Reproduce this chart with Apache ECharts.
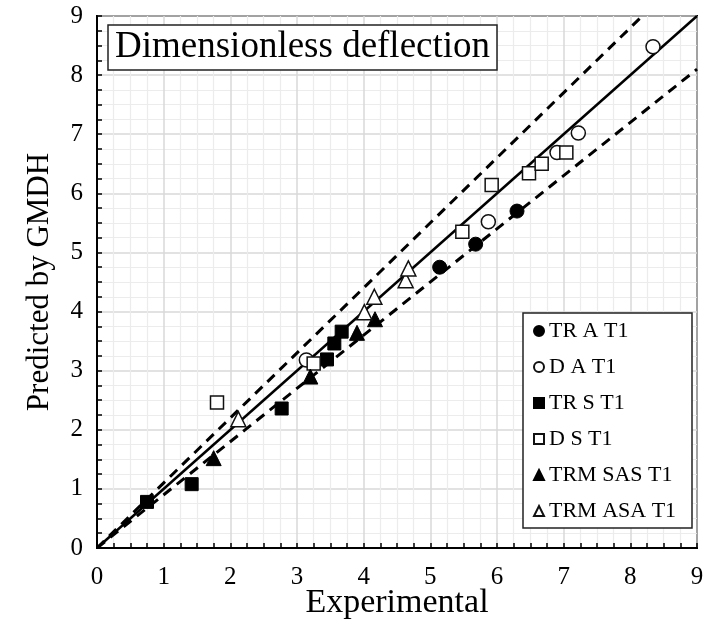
<!DOCTYPE html>
<html>
<head>
<meta charset="utf-8">
<script src="https://cdn.jsdelivr.net/npm/echarts@6/dist/echarts.min.js"></script>
<style>
html,body{margin:0;padding:0;background:#fff;}
#chart{width:707px;height:619px;}
</style>
</head>
<body>
<div id="chart"></div>
<script>
// ---- data ----
var seriesNames = ['TR A T1', 'D A T1', 'TR S T1', 'D S T1', 'TRM SAS T1', 'TRM ASA T1'];

var trA_x = [5.14, 5.68, 6.30];
var trA_y = [4.75, 5.14, 5.70];

var dA_x = [3.14, 5.87, 6.90, 7.22, 8.34];
var dA_y = [3.18, 5.52, 6.69, 7.02, 8.48];

var trS_x = [0.75, 1.42, 2.77, 3.45, 3.56, 3.67];
var trS_y = [0.78, 1.08, 2.36, 3.19, 3.46, 3.66];

var dS_x = [1.80, 3.25, 5.48, 5.92, 6.48, 6.67, 7.04];
var dS_y = [2.46, 3.12, 5.35, 6.14, 6.34, 6.50, 6.69];

var trmSAS_x = [1.75, 3.20, 3.90, 4.17];
var trmSAS_y = [1.52, 2.90, 3.64, 3.87];

var trmASA_x = [2.12, 4.01, 4.16, 4.63, 4.67];
var trmASA_y = [2.18, 3.99, 4.25, 4.53, 4.73];

// reference lines (end points)
var lineEqual = [[0, 0], [9, 9]];
var lineUpper = [[0, 0], [8.18, 9]];
var lineLower = [[0, 0], [9, 8.1]];

var axisTicks = [0, 1, 2, 3, 4, 5, 6, 7, 8, 9];

function zip(xs, ys) { return xs.map(function (x, i) { return [x, ys[i]]; }); }

var FONT = '"Liberation Serif", "Times New Roman", serif';

function scatter(name, xs, ys, symbol, filled, size) {
  return {
    name: name,
    type: 'scatter',
    data: zip(xs, ys),
    symbol: symbol,
    symbolSize: size,
    z: 5,
    itemStyle: filled
      ? { color: '#000', borderColor: '#000', borderWidth: 1, opacity: 1 }
      : { color: '#fff', borderColor: '#111', borderWidth: 1.5, opacity: 1 }
  };
}

function refLine(data, dashed) {
  return {
    type: 'line',
    data: data,
    symbol: 'none',
    silent: true,
    z: 3,
    lineStyle: { color: '#000', width: dashed ? 3 : 2.5, type: dashed ? [10, 7] : 'solid' }
  };
}

var axisCommon = {
  type: 'value',
  min: 0,
  max: 9,
  interval: 1,
  nameLocation: 'middle',
  nameMoveOverlap: false,
  nameTextStyle: { fontFamily: FONT, fontSize: 34, color: '#000' },
  axisLine: { show: true, onZero: false, lineStyle: { color: '#000', width: 2 } },
  axisTick: { show: true, inside: true, length: 5, lineStyle: { color: '#000', width: 1.5 } },
  minorTick: { show: true, splitNumber: 4, length: 5, lineStyle: { color: '#000', width: 1.5 } },
  splitLine: { show: true, lineStyle: { color: '#d9d9d9', width: 1.5 } },
  minorSplitLine: { show: true, lineStyle: { color: '#ececec', width: 1.2 } },
  axisLabel: { fontFamily: FONT, fontSize: 25, color: '#000',
    formatter: function (v) { return axisTicks.indexOf(v) >= 0 ? String(v) : ''; } }
};

var chart = echarts.init(document.getElementById('chart'), null, { renderer: 'canvas' });
chart.setOption({
  backgroundColor: '#fff',
  animation: false,
  title: {
    text: 'Dimensionless deflection',
    left: 108,
    top: 25,
    padding: [4, 7, 4, 7],
    backgroundColor: '#fff',
    borderColor: '#222',
    borderWidth: 1.5,
    z: 8,
    textStyle: { fontFamily: FONT, fontSize: 37, fontWeight: 'normal', color: '#000', lineHeight: 37 }
  },
  grid: {
    left: 97, right: 10, top: 16, bottom: 71,
    outerBoundsMode: 'none',
    containLabel: false,
    show: true, borderColor: '#000', borderWidth: 2, backgroundColor: 'transparent'
  },
  xAxis: Object.assign({}, axisCommon, {
    name: 'Experimental',
    nameGap: 38,
    axisLabel: Object.assign({}, axisCommon.axisLabel, { margin: 17 })
  }),
  yAxis: Object.assign({}, axisCommon, {
    name: 'Predicted by GMDH',
    nameGap: 42,
    nameTextStyle: { fontFamily: FONT, fontSize: 31, color: '#000' },
    axisLabel: Object.assign({}, axisCommon.axisLabel, { margin: 14 })
  }),
  graphic: [{
    type: 'rect',
    z: 7,
    shape: { x: 523, y: 313, width: 169, height: 215 },
    style: { fill: '#fff', stroke: '#222', lineWidth: 1.5 }
  }],
  legend: {
    orient: 'vertical',
    left: 533,
    top: 320,
    padding: 0,
    itemGap: 14,
    itemWidth: 10,
    itemHeight: 10,
    z: 9,
    data: seriesNames,
    textStyle: { fontFamily: FONT, fontSize: 22, color: '#000', lineHeight: 22 }
  },
  series: [
    refLine(lineEqual, false),
    refLine(lineUpper, true),
    refLine(lineLower, true),
    scatter(seriesNames[0], trA_x, trA_y, 'circle', true, 14),
    scatter(seriesNames[1], dA_x, dA_y, 'circle', false, 14),
    scatter(seriesNames[2], trS_x, trS_y, 'rect', true, 13),
    scatter(seriesNames[3], dS_x, dS_y, 'rect', false, 13),
    scatter(seriesNames[4], trmSAS_x, trmSAS_y, 'triangle', true, 15),
    scatter(seriesNames[5], trmASA_x, trmASA_y, 'triangle', false, 15)
  ]
});
</script>
</body>
</html>
